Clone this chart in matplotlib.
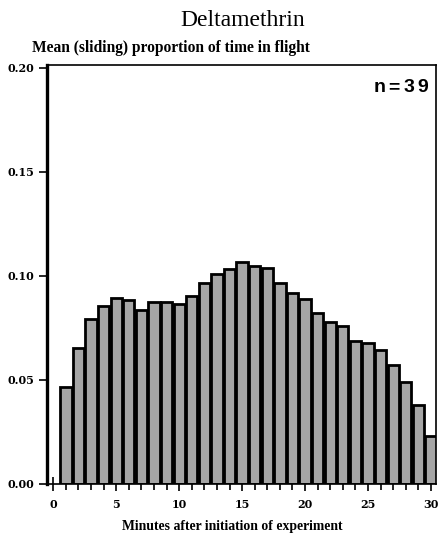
import numpy as np
import matplotlib
matplotlib.use("Agg")
import matplotlib.pyplot as plt
from matplotlib import transforms
from matplotlib.ticker import MultipleLocator, FormatStrFormatter

# minute index (bar centres) and mean sliding proportion of time in flight
minutes = list(range(1, 31))
flight = [0.0468, 0.0652, 0.0793, 0.0856, 0.0896, 0.0885, 0.0837, 0.0875,
          0.0875, 0.0865, 0.0905, 0.0965, 0.1008, 0.1034, 0.1066, 0.1048,
          0.1037, 0.0965, 0.0917, 0.0890, 0.0822, 0.0780, 0.0758, 0.0687,
          0.0678, 0.0645, 0.0572, 0.0490, 0.0382, 0.0232]
xticks = [0, 5, 10, 15, 20, 25, 30]
yticks = [0.00, 0.05, 0.10, 0.15, 0.20]

serif = ["Liberation Serif", "DejaVu Serif"]
tickfont = ["DejaVu Serif"]

fig = plt.figure(figsize=(4.38, 5.37), dpi=100)
ax = fig.add_axes([0.1073, 0.0987, 0.8881, 0.7803])

ax.bar(minutes, flight, width=0.9, color="#a6a6a6", edgecolor="black",
       linewidth=2.0, zorder=2)

ax.set_xlim(-0.5, 30.4)
ax.set_ylim(0, 0.2014)

ax.set_xticks(xticks)
ax.xaxis.set_minor_locator(MultipleLocator(1))
ax.set_yticks(yticks)
ax.yaxis.set_major_formatter(FormatStrFormatter("%.2f"))

ax.tick_params(axis="x", which="major", direction="inout", length=10,
               width=1.2, pad=6)
ax.tick_params(axis="x", which="minor", direction="out", length=4, width=1.2)
ax.tick_params(axis="y", which="major", direction="out", length=6,
               width=1.2, pad=3)
for lab in ax.get_xticklabels() + ax.get_yticklabels():
    lab.set_family(tickfont)
    lab.set_fontweight("bold")
    lab.set_fontsize(8)

for side in ["top", "right", "bottom"]:
    ax.spines[side].set_linewidth(1.2)
ax.spines["left"].set_linewidth(2.4)

fig.text(0.555, 0.962, "Deltamethrin", ha="center", va="center",
         family=serif, fontsize=17)
fig.text(0.073, 0.911, "Mean (sliding) proportion of time in flight",
         ha="left", va="center", family=serif, fontweight="bold", fontsize=11.2)
fig.text(0.53, 0.02, "Minutes after initiation of experiment",
         ha="center", va="center", family=serif, fontweight="bold",
         fontsize=9.9)

# "n=39" drawn letter-spaced, as in the original
label = "n=39"
x0, y0 = 0.856, 0.946
for i, ch in enumerate(label):
    tr = transforms.offset_copy(ax.transAxes, fig=fig, x=i * 14.3 * 0.72,
                                y=0, units="points")
    ax.text(x0, y0, ch, transform=tr, ha="center", va="center",
            family=["Liberation Sans", "DejaVu Sans"], fontweight="bold",
            fontsize=14)

fig.savefig("out.png", dpi=100)
